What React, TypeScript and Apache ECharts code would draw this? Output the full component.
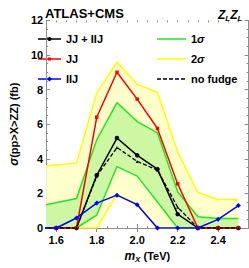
import React, { useEffect, useRef } from "react";
import * as echarts from "echarts";

const xs = [1.5, 1.6, 1.7, 1.8, 1.9, 2.0, 2.1, 2.2, 2.3, 2.4, 2.5];
const jjIIJ = [0, 0, 0, 3.05, 5.2, 4.2, 3.4, 0.8, 0, 0, 0];
const jj = [0, 0, 0, 6.4, 9.0, 7.45, 5.75, 2.55, 0, 0, 0];
const iij = [0, 0, 0.58, 1.44, 1.9, 1.35, 0, 0, 0, 0.5, 1.3];
const noFudge = [0, 0, 0, 3.0, 4.65, 3.85, 3.35, 1.2, 0, 0, 0];

const bandX = [1.55, 1.7, 1.8, 1.9, 2.0, 2.1, 2.2, 2.3, 2.4, 2.5];
const oneSigmaHi = [1.35, 1.7, 5.1, 7.25, 6.15, 5.5, 2.1, 0.65, 0.55, 0.55];
const oneSigmaLo = [0, 0, 0.75, 3.55, 3.0, 1.5, 0, 0, 0, 0];
const twoSigmaHi = [3.6, 3.75, 7.8, 9.6, 8.3, 7.85, 4.4, 2.05, 1.65, 1.65];
const twoSigmaLo = [0, 0, 0, 1.95, 1.35, 0, 0, 0, 0, 0];

const xMajor = [1.6, 1.8, 2.0, 2.2, 2.4];

const FONT = "'Liberation Sans', Arial, sans-serif";
const AX = "#8c8c8c";
const GREEN = "#22e622";
const YELLOW = "#ffff00";

function pairs(x: number[], y: number[]) {
  return x.map((v, i) => [v, y[i]]);
}

function bandSeries(lo: number[], hi: number[], fill: string) {
  return {
    type: "custom",
    silent: true,
    xAxisIndex: 0,
    yAxisIndex: 0,
    data: bandX.map((x, i) => [x, lo[i], hi[i]]),
    encode: { x: 0, y: [1, 2] },
    renderItem: (params: any, api: any) => {
      if (params.dataIndex !== 0) return { type: "group", children: [] };
      const pts: number[][] = [];
      for (let i = 0; i < bandX.length; i++) pts.push(api.coord([bandX[i], hi[i]]));
      for (let i = bandX.length - 1; i >= 0; i--) pts.push(api.coord([bandX[i], lo[i]]));
      return { type: "polygon", shape: { points: pts }, style: { fill, stroke: "none" } };
    },
  };
}

function bandLine(name: string, y: number[], color: string) {
  return {
    name,
    type: "line",
    data: pairs(bandX, y),
    symbol: "none",
    lineStyle: { color, width: 1.5 },
    itemStyle: { color },
    clip: true,
  };
}

const legendText = (x: number, y: number, text: string) => ({
  type: "text",
  x,
  y,
  style: {
    text,
    fontFamily: FONT,
    fontWeight: "bold",
    fontSize: 11,
    fill: "#000",
    verticalAlign: "middle",
    align: "left",
    rich: { i: { fontFamily: FONT, fontStyle: "italic", fontWeight: "bold", fontSize: 11, fill: "#000" } },
  },
});

const legendLine = (x1: number, x2: number, y: number, color: string, dash?: number[]) => ({
  type: "line",
  shape: { x1, y1: y, x2, y2: y },
  style: { stroke: color, lineWidth: 1.5, lineDash: dash || null },
});

export default function App() {
  const ref = useRef<HTMLDivElement>(null);
  useEffect(() => {
    document.body.style.margin = "0";
    const chart = echarts.init(ref.current!, null, { renderer: "svg" });
    const tickLabel = { fontFamily: FONT, fontWeight: "bold", fontSize: 11, color: "#000" };
    const minorX = (pos: string) => ({
      type: "value",
      position: pos,
      min: 1.55,
      max: 2.55,
      interval: 0.05,
      axisLine: { show: false },
      axisTick: { show: true, inside: true, length: 2, lineStyle: { color: AX } },
      axisLabel: { show: false },
      splitLine: { show: false },
    });
    chart.setOption({
      animation: false,
      title: [
        {
          text: "ATLAS+CMS",
          left: 40,
          top: 2,
          textStyle: { fontFamily: FONT, fontWeight: "bold", fontSize: 13, color: "#000" },
        },
        {
          text: "{i|Z}{s|L}{i|Z}{s|L}",
          left: 213,
          top: 2,
          textStyle: {
            fontFamily: FONT,
            rich: {
              i: { fontFamily: FONT, fontStyle: "italic", fontWeight: "bold", fontSize: 12, lineHeight: 15, color: "#000" },
              s: { fontFamily: FONT, fontStyle: "italic", fontWeight: "bold", fontSize: 8, lineHeight: 9, verticalAlign: "bottom", color: "#000" },
            },
          },
        },
      ],
      graphic: [
        legendLine(38, 61, 39, "#000"),
        { type: "circle", shape: { cx: 49.5, cy: 39, r: 2 }, style: { fill: "#000" } },
        legendText(66, 39, "JJ + IIJ"),
        legendLine(38, 61, 59, "#ff0000"),
        { type: "rect", shape: { x: 48, y: 57.5, width: 3, height: 3 }, style: { fill: "#ff0000" } },
        legendText(66, 59, "JJ"),
        legendLine(38, 61, 79, "#0000ff"),
        { type: "polygon", shape: { points: [[49.5, 76.5], [52, 79], [49.5, 81.5], [47, 79]] }, style: { fill: "#0000ff" } },
        legendText(66, 79, "IIJ"),
        legendLine(157, 186, 39, GREEN),
        legendText(191, 39, "1{i|σ}"),
        legendLine(157, 186, 59, YELLOW),
        legendText(191, 59, "2{i|σ}"),
        legendLine(157, 186, 79, "#000", [4, 2]),
        legendText(191, 79, "no fudge"),
      ],
      grid: { left: 32, right: 0.5, top: 20.4, bottom: 34, containLabel: false },
      xAxis: [
        {
          type: "value",
          position: "bottom",
          min: 1.55,
          max: 2.55,
          axisLine: { show: true, lineStyle: { color: AX } },
          axisTick: { show: true, inside: true, length: 4, customValues: xMajor, lineStyle: { color: AX } },
          axisLabel: { ...tickLabel, margin: 6, customValues: xMajor, formatter: (v: number) => v.toFixed(1) },
          splitLine: { show: false },
          name: "{i|m}{s|X} (TeV)",
          nameLocation: "middle",
          nameGap: 21,
          nameTextStyle: {
            fontFamily: FONT,
            fontWeight: "bold",
            fontSize: 11,
            color: "#000",
            rich: {
              i: { fontFamily: FONT, fontStyle: "italic", fontWeight: "bold", fontSize: 12, lineHeight: 14, color: "#000" },
              s: { fontFamily: FONT, fontStyle: "italic", fontWeight: "bold", fontSize: 8, lineHeight: 9, verticalAlign: "bottom", color: "#000" },
            },
          },
        },
        {
          type: "value",
          position: "top",
          min: 1.55,
          max: 2.55,
          axisLine: { show: true, lineStyle: { color: AX } },
          axisTick: { show: true, inside: true, length: 4, customValues: xMajor, lineStyle: { color: AX } },
          axisLabel: { show: false },
          splitLine: { show: false },
        },
        minorX("bottom"),
        minorX("top"),
      ],
      yAxis: [
        {
          type: "value",
          position: "left",
          min: 0,
          max: 12,
          interval: 2,
          axisLine: { show: true, lineStyle: { color: AX } },
          axisTick: { show: true, inside: true, length: 4, lineStyle: { color: AX } },
          minorTick: { show: true, splitNumber: 4, length: 2, lineStyle: { color: AX } },
          axisLabel: { ...tickLabel, margin: 3 },
          splitLine: { show: false },
          minorSplitLine: { show: false },
          name: "{i|σ}(pp>X>ZZ) (fb)",
          nameLocation: "middle",
          nameRotate: 90,
          nameGap: 16,
          nameTextStyle: {
            fontFamily: FONT,
            fontWeight: "bold",
            fontSize: 11,
            color: "#000",
            rich: { i: { fontFamily: FONT, fontStyle: "italic", fontWeight: "bold", fontSize: 12, color: "#000" } },
          },
        },
        {
          type: "value",
          position: "right",
          min: 0,
          max: 12,
          interval: 2,
          axisLine: { show: true, lineStyle: { color: AX } },
          axisTick: { show: true, inside: true, length: 4, lineStyle: { color: AX } },
          minorTick: { show: true, splitNumber: 4, length: 2, lineStyle: { color: AX } },
          axisLabel: { show: false },
          splitLine: { show: false },
        },
      ],
      series: [
        bandSeries(twoSigmaLo, twoSigmaHi, "#ffffcc"),
        bandSeries(oneSigmaLo, oneSigmaHi, "#cdf7a2"),
        bandLine("2σ", twoSigmaHi, YELLOW),
        bandLine("2σ", twoSigmaLo, YELLOW),
        bandLine("1σ", oneSigmaHi, GREEN),
        bandLine("1σ", oneSigmaLo, GREEN),
        {
          name: "JJ + IIJ",
          type: "line",
          data: pairs(xs, jjIIJ),
          symbol: "circle",
          symbolSize: 4.5,
          lineStyle: { color: "#000", width: 1.5 },
          itemStyle: { color: "#000" },
          clip: true,
        },
        {
          name: "JJ",
          type: "line",
          data: pairs(xs, jj),
          symbol: "rect",
          symbolSize: 3.5,
          lineStyle: { color: "#ff0000", width: 1.5 },
          itemStyle: { color: "#ff0000" },
          clip: true,
        },
        {
          name: "no fudge",
          type: "line",
          data: pairs(xs, noFudge),
          symbol: "triangle",
          symbolSize: 3,
          showSymbol: true,
          lineStyle: { color: "#000", width: 1.3, type: [4, 2] },
          itemStyle: { color: "#000" },
          clip: true,
        },
        {
          name: "IIJ",
          type: "line",
          data: pairs(xs, iij),
          symbol: "diamond",
          symbolSize: 5,
          lineStyle: { color: "#0000ff", width: 1.5 },
          itemStyle: { color: "#0000ff" },
          clip: true,
        },
      ],
    });
    return () => chart.dispose();
  }, []);
  return <div ref={ref} style={{ width: 249, height: 268 }} />;
}
